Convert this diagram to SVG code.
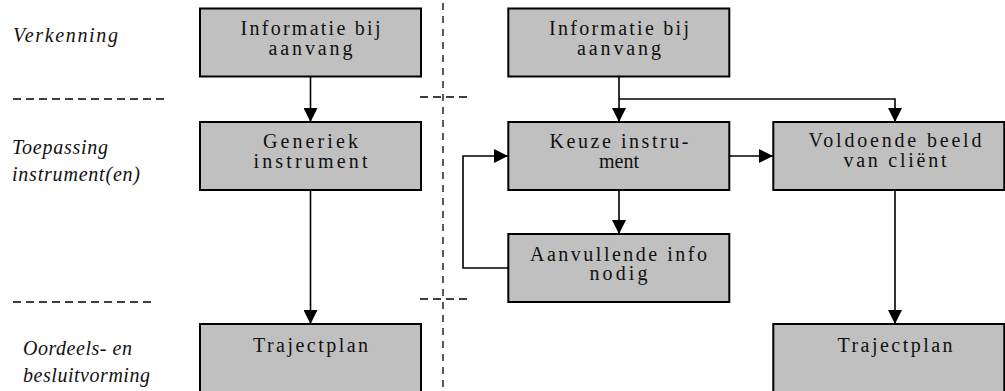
<svg xmlns="http://www.w3.org/2000/svg" width="1005" height="391" viewBox="0 0 1005 391">
  <style>
    .box { fill: #c0c0c0; stroke: #000; stroke-width: 2; }
    .t { font-family: 'Liberation Serif', 'DejaVu Serif', 'Times New Roman', serif; font-size: 20px; fill: #111; text-anchor: middle; }
    .lab { font-family: 'Liberation Serif', 'DejaVu Serif', 'Times New Roman', serif; font-size: 20px; font-style: italic; fill: #111; }
    .con { fill: none; stroke: #000; stroke-width: 1.6; }
    .dash { fill: none; stroke: #000; stroke-width: 1.3; stroke-dasharray: 8 5; }
    .vdash { fill: none; stroke: #000; stroke-width: 1.3; stroke-dasharray: 7 6; }
  </style>
  <defs>
    <marker id="arr" markerUnits="userSpaceOnUse" markerWidth="14" markerHeight="14" refX="14" refY="7" orient="auto">
      <path d="M0,0 L14,7 L0,14 z" fill="#000"/>
    </marker>
  </defs>
  <rect width="1005" height="391" fill="#fff"/>

  <g id="phases">
    <text class="lab" x="13" y="42" textLength="105" lengthAdjust="spacing">Verkenning</text>
    <text class="lab" x="12" y="154" textLength="96" lengthAdjust="spacing">Toepassing</text>
    <text class="lab" x="12" y="181" textLength="128" lengthAdjust="spacing">instrument(en)</text>
    <text class="lab" x="23" y="355" textLength="109" lengthAdjust="spacing">Oordeels- en</text>
    <text class="lab" x="23" y="382" textLength="127" lengthAdjust="spacing">besluitvorming</text>
    <line class="dash" x1="13" y1="99" x2="167" y2="99"/>
    <line class="dash" x1="13" y1="302" x2="154" y2="302"/>
    <line class="vdash" x1="443" y1="3" x2="443" y2="391"/>
    <line class="dash" x1="420" y1="97" x2="467" y2="97" stroke-dasharray="7 5"/>
    <line class="dash" x1="420" y1="299" x2="467" y2="299" stroke-dasharray="7 5"/>
  </g>

  <g id="connectors">
    <line class="con" x1="310.5" y1="77" x2="310.5" y2="122" marker-end="url(#arr)"/>
    <line class="con" x1="310.5" y1="190" x2="310.5" y2="324" marker-end="url(#arr)"/>
    <line class="con" x1="619" y1="77" x2="619" y2="122" marker-end="url(#arr)"/>
    <polyline class="con" points="619,99 895,99 895,122" marker-end="url(#arr)"/>
    <line class="con" x1="729" y1="156" x2="773" y2="156" marker-end="url(#arr)"/>
    <line class="con" x1="619" y1="190" x2="619" y2="234" marker-end="url(#arr)"/>
    <polyline class="con" points="508,268 463,268 463,156 508,156" marker-end="url(#arr)"/>
    <line class="con" x1="895" y1="190" x2="895" y2="324" marker-end="url(#arr)"/>
  </g>

  <g id="info-left">
    <rect class="box" x="200" y="8.5" width="221" height="68"/>
    <text class="t" x="310.5" y="35" textLength="140" lengthAdjust="spacing">Informatie bij</text>
    <text class="t" x="310.5" y="54.5" textLength="84" lengthAdjust="spacing">aanvang</text>
  </g>
  <g id="generiek">
    <rect class="box" x="200" y="122" width="221" height="68"/>
    <text class="t" x="310.5" y="148.3" textLength="95" lengthAdjust="spacing">Generiek</text>
    <text class="t" x="310.5" y="168.3" textLength="114" lengthAdjust="spacing">instrument</text>
  </g>
  <g id="traject-left">
    <rect class="box" x="200" y="324" width="221" height="80"/>
    <text class="t" x="310.5" y="351.7" textLength="115" lengthAdjust="spacing">Trajectplan</text>
  </g>

  <g id="info-right">
    <rect class="box" x="508.3" y="8.5" width="221" height="68"/>
    <text class="t" x="619" y="35" textLength="140" lengthAdjust="spacing">Informatie bij</text>
    <text class="t" x="619" y="54.5" textLength="84" lengthAdjust="spacing">aanvang</text>
  </g>
  <g id="keuze">
    <rect class="box" x="508.3" y="122" width="221" height="68"/>
    <text class="t" x="619" y="148.3" textLength="139" lengthAdjust="spacing">Keuze instru-</text>
    <text class="t" x="619" y="168.3" textLength="40" lengthAdjust="spacing">ment</text>
  </g>
  <g id="aanvullend">
    <rect class="box" x="508.3" y="234" width="221" height="68"/>
    <text class="t" x="618.5" y="260.7" textLength="177" lengthAdjust="spacing">Aanvullende info</text>
    <text class="t" x="618.5" y="280" textLength="58" lengthAdjust="spacing">nodig</text>
  </g>
  <g id="voldoende">
    <rect class="box" x="773.3" y="122" width="231" height="68"/>
    <text class="t" x="895" y="147.3" textLength="173" lengthAdjust="spacing">Voldoende beeld</text>
    <text class="t" x="895" y="167.3" textLength="103" lengthAdjust="spacing">van cliënt</text>
  </g>
  <g id="traject-right">
    <rect class="box" x="773.3" y="324" width="231" height="80"/>
    <text class="t" x="895" y="351.7" textLength="115" lengthAdjust="spacing">Trajectplan</text>
  </g>
</svg>
